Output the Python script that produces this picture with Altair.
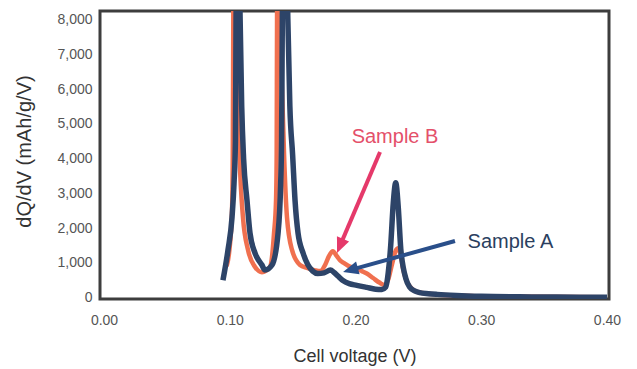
import altair as alt
import pandas as pd

# Sample A (navy)
voltage_a = [0.0946, 0.0986, 0.1018, 0.1034, 0.1045, 0.1050, 0.1063, 0.1080, 0.1095, 0.1110,
             0.1137, 0.1161, 0.1201, 0.1256, 0.128, 0.1336, 0.1384, 0.1405, 0.1412, 0.1418,
             0.1440, 0.1462, 0.1478, 0.1500, 0.1519, 0.1543, 0.1583, 0.162, 0.166, 0.170,
             0.175, 0.180, 0.183, 0.186, 0.190, 0.195, 0.201, 0.209, 0.216, 0.221,
             0.224, 0.226, 0.228, 0.230, 0.232, 0.234, 0.236, 0.238, 0.240, 0.243,
             0.247, 0.251, 0.258, 0.265, 0.280, 0.300, 0.330, 0.360, 0.400]
dqdv_a = [500, 1370, 2310, 3290, 4500, 8000, 13000, 8500, 5500, 4000,
          2800, 1850, 1280, 935, 790, 935, 1850, 3300, 4500, 8000,
          13000, 8000, 5500, 4100, 2800, 1850, 1280, 950, 760, 690,
          710, 790, 720, 620, 490, 400, 350, 290, 240, 230,
          300, 700, 1500, 2700, 3300, 2600, 1400, 860, 550, 300,
          190, 140, 110, 90, 60, 35, 20, 12, 8]

# Sample B (orange)
voltage_b = [0.0975, 0.0995, 0.1018, 0.1024, 0.1028, 0.1040, 0.1056, 0.1068, 0.1078, 0.1105,
             0.1145, 0.1201, 0.1256, 0.132, 0.1352, 0.1368, 0.1373, 0.1376, 0.1388, 0.1402,
             0.1420, 0.1432, 0.1455, 0.1495, 0.1559, 0.1614, 0.168, 0.172, 0.176, 0.179,
             0.182, 0.185, 0.188, 0.191, 0.195, 0.200, 0.205, 0.209, 0.214, 0.219,
             0.223, 0.226, 0.229, 0.232, 0.234, 0.236, 0.238, 0.241, 0.245, 0.250,
             0.260, 0.280, 0.300, 0.400]
dqdv_b = [900, 1300, 2500, 4100, 8000, 13000, 8000, 5500, 4100, 2310,
          1370, 880, 730, 880, 1850, 2800, 4100, 8000, 13000, 8000,
          5500, 4100, 2310, 1370, 935, 850, 780, 760, 950, 1200,
          1330, 1200, 1060, 990, 900, 840, 760, 690, 560, 430,
          360, 520, 950, 1350, 1420, 1200, 800, 450, 250, 150,
          100, 60, 35, 8]

x_ticks = [0.0, 0.1, 0.2, 0.3, 0.4]
y_ticks = [0, 1000, 2000, 3000, 4000, 5000, 6000, 7000, 8000]

# annotation anchors (data units)
label_text = ["Sample B", "Sample A"]
label_x = [0.2314, 0.3232]
label_y = [4619, 1597]
arrow_x = [0.2195, 0.2791]
arrow_y = [4187, 1626]
shaft_x2 = [0.1877, 0.1962]
shaft_y2 = [1494, 794]
tip_x = [0.1853, 0.1901]
tip_y = [1281, 734]
tip_angle = [203, 254.5]

df = pd.concat([
    pd.DataFrame({"v": voltage_b, "d": dqdv_b, "s": "Sample B"}),
    pd.DataFrame({"v": voltage_a, "d": dqdv_a, "s": "Sample A"}),
])
ann = pd.DataFrame({"t": label_text, "lx": label_x, "ly": label_y,
                    "ax": arrow_x, "ay": arrow_y, "sx": shaft_x2, "sy": shaft_y2,
                    "tx": tip_x, "ty": tip_y, "ang": tip_angle})

FONT = "Liberation Sans"
xs = alt.Scale(domain=[-0.0032, 0.4016], nice=False, zero=False)
ys = alt.Scale(domain=[-43, 8245], nice=False, zero=False)
col = alt.Scale(domain=["Sample B", "Sample A"], range=["#f0704f", "#2d4468"])

xax = alt.Axis(values=x_ticks, format=".2f", title="Cell voltage (V)", grid=False,
               ticks=False, domain=False, labelFontSize=14, labelColor="#555555",
               labelPadding=14, labelFont=FONT, titleFont=FONT, titleFontSize=18,
               titleFontWeight="normal", titleColor="#333333", titleY=57,
               titleBaseline="middle", labelOverlap=False)
yax = alt.Axis(values=y_ticks, format=",.0f", title="dQ/dV (mAh/g/V)", grid=False,
               ticks=False, domain=False, labelFontSize=14, labelColor="#555555",
               labelPadding=8, labelFont=FONT, titleFont=FONT, titleFontSize=20,
               titleFontWeight="normal", titleColor="#333333", titleX=-76, titleY=140,
               titleAngle=-90, titleAlign="center", titleBaseline="middle",
               labelOverlap=False, tickCount=9)


def X(f):
    return alt.X(f, type="quantitative", scale=xs, axis=xax, title="Cell voltage (V)")


def Y(f):
    return alt.Y(f, type="quantitative", scale=ys, axis=yax, title="dQ/dV (mAh/g/V)")


lines = alt.Chart(df).mark_line(clip=True, interpolate="monotone").encode(
    x=X("v"),
    y=Y("d"),
    color=alt.Color("s:N", scale=col, legend=None),
    strokeWidth=alt.condition(alt.datum.s == "Sample A", alt.value(5.5), alt.value(4.5)),
    detail="s:N",
    order=alt.Order("v:Q"),
)

arr_col = alt.Scale(domain=label_text, range=["#e5396a", "#2a4f8a"])
txt_col = alt.Scale(domain=label_text, range=["#e4506a", "#2b3f5f"])

shafts = alt.Chart(ann).mark_rule(strokeWidth=4).encode(
    x=X("ax"), y=Y("ay"), x2="sx:Q", y2="sy:Q",
    color=alt.Color("t:N", scale=arr_col, legend=None),
)
heads = alt.Chart(ann).mark_point(
    shape="M0,0L0.6,1.4L-0.6,1.4Z", filled=True, size=480, opacity=1
).encode(
    x=X("tx"), y=Y("ty"), angle=alt.Angle("ang:Q", scale=None),
    color=alt.Color("t:N", scale=arr_col, legend=None),
)
texts = alt.Chart(ann).mark_text(fontSize=20, font=FONT, baseline="middle", align="center").encode(
    x=X("lx"), y=Y("ly"), text="t:N",
    color=alt.Color("t:N", scale=txt_col, legend=None),
)

chart = alt.layer(lines, shafts, heads, texts).resolve_scale(color="independent").properties(
    width=509, height=288,
    autosize=alt.AutoSizeParams(type="none"),
    padding={"left": 100, "top": 11, "right": 28, "bottom": 70},
    background="white",
).configure_view(stroke="#3d3d3d", strokeWidth=3)

chart.save("out.html", embed_options={"renderer": "svg", "actions": False})
